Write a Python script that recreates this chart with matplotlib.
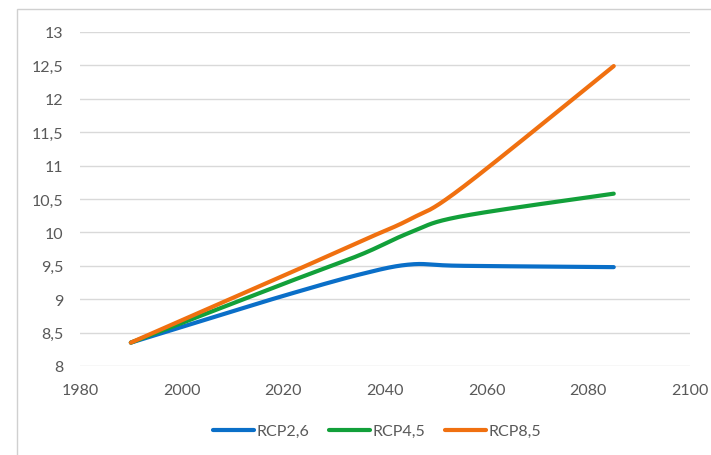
import numpy as np
import matplotlib
matplotlib.use("Agg")
import matplotlib.pyplot as plt
from matplotlib.patches import Rectangle
from matplotlib.ticker import FuncFormatter

# Projected values per scenario
years = [1990, 2005, 2020, 2035, 2045, 2055, 2085]
rcp26 = [8.35, 8.70, 9.05, 9.37, 9.52, 9.50, 9.48]
rcp45 = [8.35, 8.79, 9.23, 9.66, 10.00, 10.24, 10.58]
rcp85 = [8.35, 8.85, 9.35, 9.86, 10.20, 10.66, 12.49]
labels = ["RCP2,6", "RCP4,5", "RCP8,5"]
colors = ["#0A6FC8", "#12A03A", "#F07010"]

x_ticks = [1980, 2000, 2020, 2040, 2060, 2080, 2100]
y_ticks = [8, 8.5, 9, 9.5, 10, 10.5, 11, 11.5, 12, 12.5, 13]


def smooth(xs, ys, n=40):
    """Spreadsheet-style smoothed line: cubic Bezier with 1/6 tangents."""
    p = np.column_stack([xs, ys]).astype(float)
    m = len(p)
    out = []
    t = np.linspace(0, 1, n)[:, None]
    for i in range(m - 1):
        p0 = p[max(i - 1, 0)]
        p1 = p[i]
        p2 = p[i + 1]
        p3 = p[min(i + 2, m - 1)]
        c1 = p1 + (p2 - p0) / 6.0
        c2 = p2 - (p3 - p1) / 6.0
        seg = ((1 - t) ** 3) * p1 + 3 * ((1 - t) ** 2) * t * c1 \
            + 3 * (1 - t) * t ** 2 * c2 + t ** 3 * p2
        out.append(seg if i == 0 else seg[1:])
    pts = np.vstack(out)
    return pts[:, 0], pts[:, 1]


plt.rcParams["font.family"] = ["Lato", "DejaVu Sans"]

W, H = 711, 456
fig = plt.figure(figsize=(W / 100, H / 100), dpi=100)
fig.patch.set_facecolor("white")

# outer chart border
fig.add_artist(Rectangle((17 / W, -0.05), 1.2, 1 - 10 / H + 0.05,
                         transform=fig.transFigure, fill=False,
                         edgecolor="#D0D0D0", linewidth=1.0))

ax = fig.add_axes([80 / W, 1 - 367 / H, (690 - 80) / W, (367 - 33) / H])
ax.set_xlim(1980, 2100)
ax.set_ylim(8, 13)
ax.set_xticks(x_ticks)
ax.set_yticks(y_ticks)
ax.yaxis.set_major_formatter(FuncFormatter(
    lambda v, _: ("%g" % v).replace(".", ",")))
ax.grid(axis="y", color="#D9D9D9", linewidth=1.0)
ax.set_axisbelow(True)
for s in ax.spines.values():
    s.set_visible(False)
ax.tick_params(length=0, labelsize=11.5, labelcolor="#595959")
ax.tick_params(axis="x", pad=12)
ax.tick_params(axis="y", pad=12)

for ys, lab, c in zip([rcp26, rcp45, rcp85], labels, colors):
    sx, sy = smooth(years, ys)
    ax.plot(sx, sy, color=c, linewidth=3.0, label=lab,
            solid_capstyle="round", solid_joinstyle="round")

leg = fig.legend(loc="center", bbox_to_anchor=(377 / W, 1 - 432 / H),
                 ncol=3, frameon=False, fontsize=11.5, handlelength=2.6,
                 handletextpad=0.15, columnspacing=1.2)
for t in leg.get_texts():
    t.set_color("#595959")

fig.savefig("out.png", dpi=100)
